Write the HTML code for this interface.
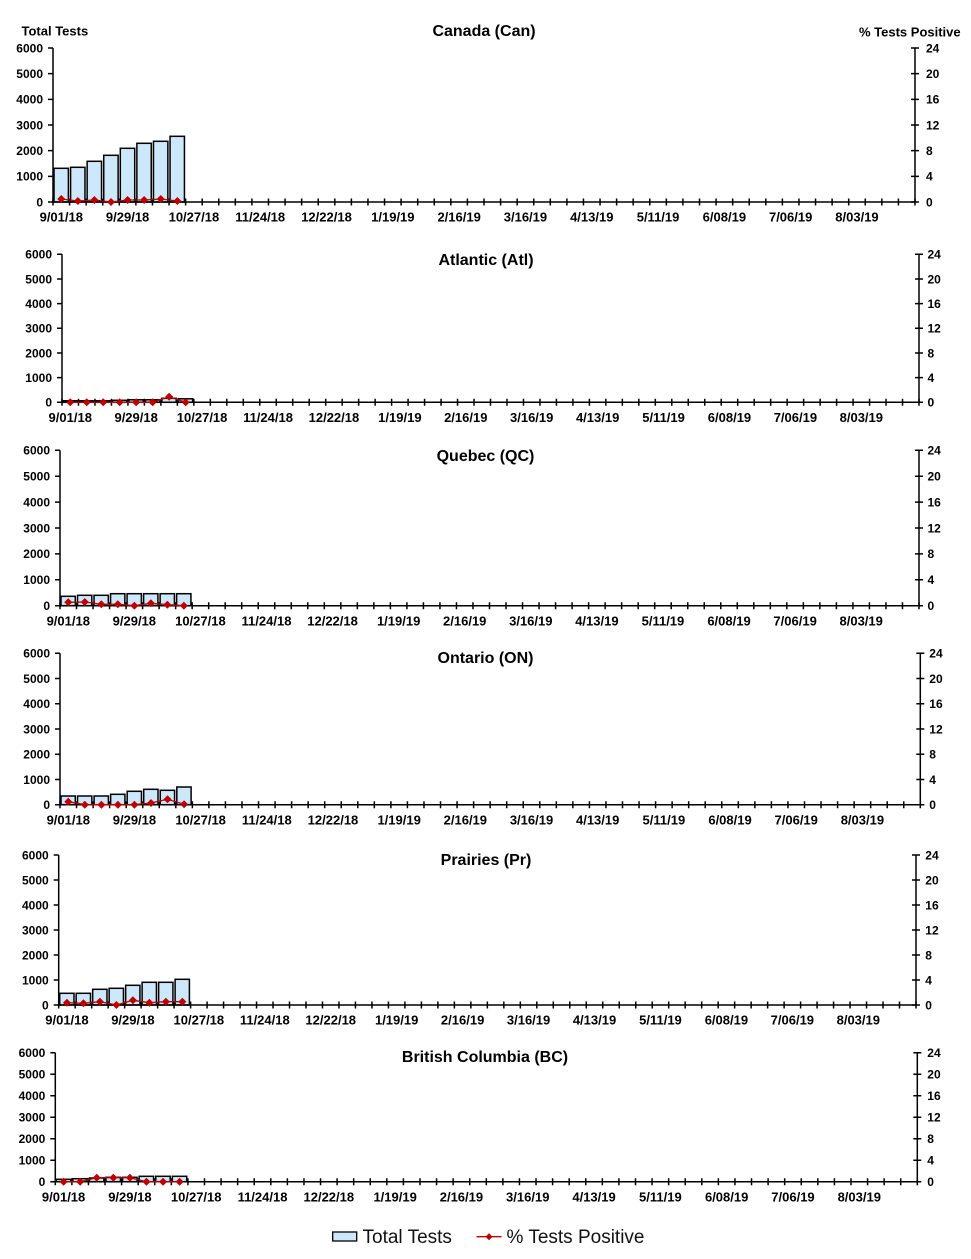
<!DOCTYPE html>
<html><head><meta charset="utf-8"><style>
html,body{margin:0;padding:0;background:#fff;}
svg{display:block;}
text{font-family:"Liberation Sans",Arial,sans-serif;fill:#000;}
.t{font-size:16px;font-weight:bold;text-anchor:middle;}
.l{font-size:12px;font-weight:bold;text-anchor:end;}
.r{font-size:12px;font-weight:bold;text-anchor:start;}
.x{font-size:13px;font-weight:bold;text-anchor:middle;}
.bar{fill:#cce8fa;stroke:#000;stroke-width:1.5;}
.ax{stroke:#000;stroke-width:1.5;fill:none;}
.tk{stroke:#000;fill:none;}
.ln{stroke:#c00000;stroke-width:1.3;fill:none;marker-start:url(#d);marker-mid:url(#d);marker-end:url(#d);}
</style></head><body>
<svg width="971" height="1259" viewBox="0 0 971 1259" xmlns="http://www.w3.org/2000/svg">
<defs><marker id="d" viewBox="-4 -4 8 8" markerWidth="8" markerHeight="8" refX="0" refY="0" markerUnits="userSpaceOnUse" overflow="visible"><path d="M0 -4L4 0 0 4 -4 0z" fill="#c00000"/></marker></defs>

<text x="21.5" y="35.3" style="font-size:13px;font-weight:bold">Total Tests</text>
<text x="859" y="36.3" style="font-size:13px;font-weight:bold">% Tests Positive</text>

<!-- Panel 1 Canada -->
<text class="t" x="484" y="36">Canada (Can)</text>
<g>
<rect class="bar" x="54" y="168.3" width="14.4" height="33.7"/>
<rect class="bar" x="70.58" y="167.3" width="14.4" height="34.7"/>
<rect class="bar" x="87.15" y="161.3" width="14.4" height="40.7"/>
<rect class="bar" x="103.73" y="155.3" width="14.4" height="46.7"/>
<rect class="bar" x="120.31" y="148.3" width="14.4" height="53.7"/>
<rect class="bar" x="136.88" y="143.3" width="14.4" height="58.7"/>
<rect class="bar" x="153.46" y="141.3" width="14.4" height="60.7"/>
<rect class="bar" x="170.04" y="136.3" width="14.4" height="65.7"/>
<path class="ax" d="M53 48V202H915V48"/>
<line class="tk" x1="52.25" y1="202" x2="915.75" y2="202" stroke-width="7" stroke-dasharray="1.5 15.0769"/>
<line class="tk" x1="50.5" y1="47.25" x2="50.5" y2="202.75" stroke-width="5" stroke-dasharray="1.5 24.1667"/>
<line class="tk" x1="915" y1="47.25" x2="915" y2="202.75" stroke-width="8" stroke-dasharray="1.5 24.1667"/>
<polyline class="ln" points="61.29,199 77.87,201 94.44,200 111.02,202 127.6,200 144.17,200 160.75,199 177.33,201"/>
<text class="l" x="43" y="206.3">0</text><text class="l" x="43" y="180.6">1000</text><text class="l" x="43" y="155">2000</text><text class="l" x="43" y="129.3">3000</text><text class="l" x="43" y="103.6">4000</text><text class="l" x="43" y="78">5000</text><text class="l" x="43" y="52.3">6000</text>
<text class="r" x="926" y="206.3">0</text><text class="r" x="926" y="180.6">4</text><text class="r" x="926" y="155">8</text><text class="r" x="926" y="129.3">12</text><text class="r" x="926" y="103.6">16</text><text class="r" x="926" y="78">20</text><text class="r" x="926" y="52.3">24</text>
<g transform="translate(0,221.6)">
<text class="x" x="61.29">9/01/18</text><text class="x" x="127.6">9/29/18</text><text class="x" x="193.91">10/27/18</text><text class="x" x="260.21">11/24/18</text><text class="x" x="326.52">12/22/18</text><text class="x" x="392.83">1/19/19</text><text class="x" x="459.14">2/16/19</text><text class="x" x="525.44">3/16/19</text><text class="x" x="591.75">4/13/19</text><text class="x" x="658.06">5/11/19</text><text class="x" x="724.37">6/08/19</text><text class="x" x="790.67">7/06/19</text><text class="x" x="856.98">8/03/19</text>
</g>
</g>

<!-- Panel 2 Atlantic -->
<text class="t" x="486" y="265">Atlantic (Atl)</text>
<g>
<rect class="bar" x="63" y="400.8" width="14.3" height="1.5"/>
<rect class="bar" x="79.48" y="400.8" width="14.3" height="1.5"/>
<rect class="bar" x="95.96" y="400.8" width="14.3" height="1.5"/>
<rect class="bar" x="112.44" y="400.3" width="14.3" height="2"/>
<rect class="bar" x="128.92" y="399.8" width="14.3" height="2.5"/>
<rect class="bar" x="145.4" y="399.8" width="14.3" height="2.5"/>
<rect class="bar" x="161.88" y="398.3" width="14.3" height="4"/>
<rect class="bar" x="178.37" y="398.8" width="14.3" height="3.5"/>
<path class="ax" d="M62 254.3V402.3H919V254.3"/>
<line class="tk" x1="61.25" y1="402.3" x2="919.75" y2="402.3" stroke-width="7" stroke-dasharray="1.5 14.9808"/>
<line class="tk" x1="59.5" y1="253.55" x2="59.5" y2="403.05" stroke-width="5" stroke-dasharray="1.5 23.1667"/>
<line class="tk" x1="919" y1="253.55" x2="919" y2="403.05" stroke-width="8" stroke-dasharray="1.5 23.1667"/>
<polyline class="ln" points="70.24,402.3 86.72,402.3 103.2,402.3 119.68,402.3 136.16,402.3 152.65,402.3 169.13,396.7 185.61,402.3"/>
<text class="l" x="52" y="406.6">0</text><text class="l" x="52" y="381.9">1000</text><text class="l" x="52" y="357.3">2000</text><text class="l" x="52" y="332.6">3000</text><text class="l" x="52" y="307.9">4000</text><text class="l" x="52" y="283.3">5000</text><text class="l" x="52" y="258.6">6000</text>
<text class="r" x="927.5" y="406.6">0</text><text class="r" x="927.5" y="381.9">4</text><text class="r" x="927.5" y="357.3">8</text><text class="r" x="927.5" y="332.6">12</text><text class="r" x="927.5" y="307.9">16</text><text class="r" x="927.5" y="283.3">20</text><text class="r" x="927.5" y="258.6">24</text>
<g transform="translate(0,421.8)">
<text class="x" x="70.24">9/01/18</text><text class="x" x="136.16">9/29/18</text><text class="x" x="202.09">10/27/18</text><text class="x" x="268.01">11/24/18</text><text class="x" x="333.93">12/22/18</text><text class="x" x="399.86">1/19/19</text><text class="x" x="465.78">2/16/19</text><text class="x" x="531.7">3/16/19</text><text class="x" x="597.63">4/13/19</text><text class="x" x="663.55">5/11/19</text><text class="x" x="729.47">6/08/19</text><text class="x" x="795.4">7/06/19</text><text class="x" x="861.32">8/03/19</text>
</g>
</g>

<!-- Panel 3 Quebec -->
<text class="t" x="485.5" y="461">Quebec (QC)</text>
<g>
<rect class="bar" x="61" y="596.3" width="14.3" height="9.4"/>
<rect class="bar" x="77.52" y="595.3" width="14.3" height="10.4"/>
<rect class="bar" x="94.04" y="595.3" width="14.3" height="10.4"/>
<rect class="bar" x="110.56" y="593.7" width="14.3" height="12"/>
<rect class="bar" x="127.08" y="593.7" width="14.3" height="12"/>
<rect class="bar" x="143.6" y="593.7" width="14.3" height="12"/>
<rect class="bar" x="160.12" y="593.7" width="14.3" height="12"/>
<rect class="bar" x="176.63" y="593.7" width="14.3" height="12"/>
<path class="ax" d="M60 450.3V605.7H919V450.3"/>
<line class="tk" x1="59.25" y1="605.7" x2="919.75" y2="605.7" stroke-width="7" stroke-dasharray="1.5 15.0192"/>
<line class="tk" x1="57.5" y1="449.55" x2="57.5" y2="606.45" stroke-width="5" stroke-dasharray="1.5 24.4"/>
<line class="tk" x1="919" y1="449.55" x2="919" y2="606.45" stroke-width="8" stroke-dasharray="1.5 24.4"/>
<polyline class="ln" points="68.26,602.3 84.78,602 101.3,604.3 117.82,604.3 134.34,605.7 150.86,603.3 167.37,604.7 183.89,605.7"/>
<text class="l" x="50" y="610">0</text><text class="l" x="50" y="584.1">1000</text><text class="l" x="50" y="558.2">2000</text><text class="l" x="50" y="532.3">3000</text><text class="l" x="50" y="506.4">4000</text><text class="l" x="50" y="480.5">5000</text><text class="l" x="50" y="454.6">6000</text>
<text class="r" x="927.5" y="610">0</text><text class="r" x="927.5" y="584.1">4</text><text class="r" x="927.5" y="558.2">8</text><text class="r" x="927.5" y="532.3">12</text><text class="r" x="927.5" y="506.4">16</text><text class="r" x="927.5" y="480.5">20</text><text class="r" x="927.5" y="454.6">24</text>
<g transform="translate(0,625.3)">
<text class="x" x="68.26">9/01/18</text><text class="x" x="134.34">9/29/18</text><text class="x" x="200.41">10/27/18</text><text class="x" x="266.49">11/24/18</text><text class="x" x="332.57">12/22/18</text><text class="x" x="398.65">1/19/19</text><text class="x" x="464.72">2/16/19</text><text class="x" x="530.8">3/16/19</text><text class="x" x="596.88">4/13/19</text><text class="x" x="662.95">5/11/19</text><text class="x" x="729.03">6/08/19</text><text class="x" x="795.11">7/06/19</text><text class="x" x="861.19">8/03/19</text>
</g>
</g>

<!-- Panel 4 Ontario -->
<text class="t" x="485.5" y="663">Ontario (ON)</text>
<g>
<rect class="bar" x="61" y="796" width="14.3" height="8.7"/>
<rect class="bar" x="77.54" y="796" width="14.3" height="8.7"/>
<rect class="bar" x="94.09" y="796" width="14.3" height="8.7"/>
<rect class="bar" x="110.63" y="794.3" width="14.3" height="10.4"/>
<rect class="bar" x="127.18" y="791.3" width="14.3" height="13.4"/>
<rect class="bar" x="143.72" y="789.3" width="14.3" height="15.4"/>
<rect class="bar" x="160.27" y="790.3" width="14.3" height="14.4"/>
<rect class="bar" x="176.81" y="787" width="14.3" height="17.7"/>
<path class="ax" d="M60 653.3V804.7H920.3V653.3"/>
<line class="tk" x1="59.25" y1="804.7" x2="921.05" y2="804.7" stroke-width="7" stroke-dasharray="1.5 15.0442"/>
<line class="tk" x1="57.5" y1="652.55" x2="57.5" y2="805.45" stroke-width="5" stroke-dasharray="1.5 23.7333"/>
<line class="tk" x1="920.3" y1="652.55" x2="920.3" y2="805.45" stroke-width="8" stroke-dasharray="1.5 23.7333"/>
<polyline class="ln" points="68.27,801.7 84.82,804.7 101.36,804.7 117.91,804.7 134.45,804.7 150.99,803 167.54,799.3 184.08,804.3"/>
<text class="l" x="50" y="809">0</text><text class="l" x="50" y="783.8">1000</text><text class="l" x="50" y="758.5">2000</text><text class="l" x="50" y="733.3">3000</text><text class="l" x="50" y="708.1">4000</text><text class="l" x="50" y="682.8">5000</text><text class="l" x="50" y="657.6">6000</text>
<text class="r" x="929.3" y="809">0</text><text class="r" x="929.3" y="783.8">4</text><text class="r" x="929.3" y="758.5">8</text><text class="r" x="929.3" y="733.3">12</text><text class="r" x="929.3" y="708.1">16</text><text class="r" x="929.3" y="682.8">20</text><text class="r" x="929.3" y="657.6">24</text>
<g transform="translate(0,824.3)">
<text class="x" x="68.27">9/01/18</text><text class="x" x="134.45">9/29/18</text><text class="x" x="200.62">10/27/18</text><text class="x" x="266.8">11/24/18</text><text class="x" x="332.98">12/22/18</text><text class="x" x="399.15">1/19/19</text><text class="x" x="465.33">2/16/19</text><text class="x" x="531.51">3/16/19</text><text class="x" x="597.68">4/13/19</text><text class="x" x="663.86">5/11/19</text><text class="x" x="730.04">6/08/19</text><text class="x" x="796.21">7/06/19</text><text class="x" x="862.39">8/03/19</text>
</g>
</g>

<!-- Panel 5 Prairies -->
<text class="t" x="486" y="865">Prairies (Pr)</text>
<g>
<rect class="bar" x="59.7" y="993.3" width="14.3" height="11.7"/>
<rect class="bar" x="76.19" y="993.3" width="14.3" height="11.7"/>
<rect class="bar" x="92.67" y="989.3" width="14.3" height="15.7"/>
<rect class="bar" x="109.16" y="988.3" width="14.3" height="16.7"/>
<rect class="bar" x="125.65" y="985.3" width="14.3" height="19.7"/>
<rect class="bar" x="142.13" y="982.3" width="14.3" height="22.7"/>
<rect class="bar" x="158.62" y="982.3" width="14.3" height="22.7"/>
<rect class="bar" x="175.11" y="979.3" width="14.3" height="25.7"/>
<path class="ax" d="M58.7 855V1005H916V855"/>
<line class="tk" x1="57.95" y1="1005" x2="916.75" y2="1005" stroke-width="7" stroke-dasharray="1.5 14.9865"/>
<line class="tk" x1="56.2" y1="854.25" x2="56.2" y2="1005.75" stroke-width="5" stroke-dasharray="1.5 23.5"/>
<line class="tk" x1="916" y1="854.25" x2="916" y2="1005.75" stroke-width="8" stroke-dasharray="1.5 23.5"/>
<polyline class="ln" points="66.94,1002.7 83.43,1003.3 99.92,1001.7 116.4,1005 132.89,1000.3 149.38,1002.7 165.86,1001.7 182.35,1001.7"/>
<text class="l" x="48.7" y="1009.3">0</text><text class="l" x="48.7" y="984.3">1000</text><text class="l" x="48.7" y="959.3">2000</text><text class="l" x="48.7" y="934.3">3000</text><text class="l" x="48.7" y="909.3">4000</text><text class="l" x="48.7" y="884.3">5000</text><text class="l" x="48.7" y="859.3">6000</text>
<text class="r" x="925.3" y="1009.3">0</text><text class="r" x="925.3" y="984.3">4</text><text class="r" x="925.3" y="959.3">8</text><text class="r" x="925.3" y="934.3">12</text><text class="r" x="925.3" y="909.3">16</text><text class="r" x="925.3" y="884.3">20</text><text class="r" x="925.3" y="859.3">24</text>
<g transform="translate(0,1024.6)">
<text class="x" x="66.94">9/01/18</text><text class="x" x="132.89">9/29/18</text><text class="x" x="198.84">10/27/18</text><text class="x" x="264.78">11/24/18</text><text class="x" x="330.73">12/22/18</text><text class="x" x="396.67">1/19/19</text><text class="x" x="462.62">2/16/19</text><text class="x" x="528.57">3/16/19</text><text class="x" x="594.51">4/13/19</text><text class="x" x="660.46">5/11/19</text><text class="x" x="726.4">6/08/19</text><text class="x" x="792.35">7/06/19</text><text class="x" x="858.3">8/03/19</text>
</g>
</g>

<!-- Panel 6 British Columbia -->
<text class="t" x="485" y="1062">British Columbia (BC)</text>
<g>
<rect class="bar" x="56.3" y="1179.3" width="14.4" height="2.4"/>
<rect class="bar" x="72.88" y="1178.7" width="14.4" height="3"/>
<rect class="bar" x="89.45" y="1178" width="14.4" height="3.7"/>
<rect class="bar" x="106.03" y="1177.3" width="14.4" height="4.4"/>
<rect class="bar" x="122.61" y="1177.3" width="14.4" height="4.4"/>
<rect class="bar" x="139.19" y="1176.3" width="14.4" height="5.4"/>
<rect class="bar" x="155.76" y="1176.3" width="14.4" height="5.4"/>
<rect class="bar" x="172.34" y="1176.3" width="14.4" height="5.4"/>
<path class="ax" d="M55.3 1052.7V1181.7H917.3V1052.7"/>
<line class="tk" x1="54.55" y1="1181.7" x2="918.05" y2="1181.7" stroke-width="7" stroke-dasharray="1.5 15.0769"/>
<line class="tk" x1="52.8" y1="1051.95" x2="52.8" y2="1182.45" stroke-width="5" stroke-dasharray="1.5 20"/>
<line class="tk" x1="917.3" y1="1051.95" x2="917.3" y2="1182.45" stroke-width="8" stroke-dasharray="1.5 20"/>
<polyline class="ln" points="63.59,1181.7 80.17,1181.7 96.74,1177.7 113.32,1177.7 129.9,1177.7 146.48,1181.7 163.05,1181.7 179.63,1181.7"/>
<text class="l" x="45.3" y="1186">0</text><text class="l" x="45.3" y="1164.5">1000</text><text class="l" x="45.3" y="1143">2000</text><text class="l" x="45.3" y="1121.5">3000</text><text class="l" x="45.3" y="1100">4000</text><text class="l" x="45.3" y="1078.5">5000</text><text class="l" x="45.3" y="1057">6000</text>
<text class="r" x="927.3" y="1186">0</text><text class="r" x="927.3" y="1164.5">4</text><text class="r" x="927.3" y="1143">8</text><text class="r" x="927.3" y="1121.5">12</text><text class="r" x="927.3" y="1100">16</text><text class="r" x="927.3" y="1078.5">20</text><text class="r" x="927.3" y="1057">24</text>
<g transform="translate(0,1201.3)">
<text class="x" x="63.59">9/01/18</text><text class="x" x="129.9">9/29/18</text><text class="x" x="196.2">10/27/18</text><text class="x" x="262.51">11/24/18</text><text class="x" x="328.82">12/22/18</text><text class="x" x="395.13">1/19/19</text><text class="x" x="461.43">2/16/19</text><text class="x" x="527.74">3/16/19</text><text class="x" x="594.05">4/13/19</text><text class="x" x="660.36">5/11/19</text><text class="x" x="726.66">6/08/19</text><text class="x" x="792.97">7/06/19</text><text class="x" x="859.28">8/03/19</text>
</g>
</g>

<!-- Legend -->
<rect x="332.7" y="1232" width="24" height="9" fill="#cce8fa" stroke="#000" stroke-width="1.3"/>
<text x="362.5" y="1242.8" style="font-size:19px;fill:#111">Total Tests</text>
<line x1="476.5" y1="1236.7" x2="501.5" y2="1236.7" stroke="#c00000" stroke-width="1.3"/>
<path d="M489 1233.2L492.5 1236.7 489 1240.2 485.5 1236.7z" fill="#c00000"/>
<text x="506.5" y="1242.8" style="font-size:19px;fill:#111">% Tests Positive</text>
</svg>
</body></html>
